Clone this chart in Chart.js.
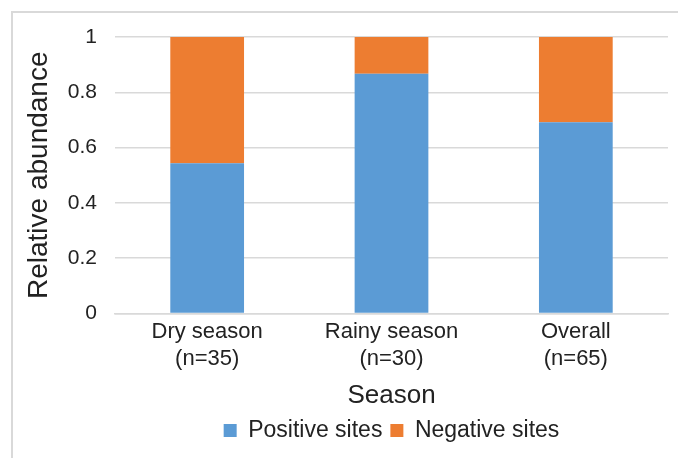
<!DOCTYPE html>
<html>
<head>
<meta charset="utf-8">
<script src="https://cdn.jsdelivr.net/npm/chart.js@4.4.0/dist/chart.umd.min.js"></script>
<style>
  html, body { margin: 0; padding: 0; background: #fff; }
  #wrap { position: relative; width: 678px; height: 458px; overflow: hidden; }
  #frame {
    position: absolute; left: 11px; top: 11px; width: 700px; height: 500px;
    border-top: 2px solid #d9d9d9; border-left: 2px solid #d9d9d9;
  }
  #myChart { position: absolute; left: 0; top: 0; }
</style>
</head>
<body>
<div id="wrap">
  <div id="frame"></div>
  <canvas id="myChart" width="678" height="458"></canvas>
</div>
<script>
"use strict";

const seasons = [["Dry season", "(n=35)"], ["Rainy season", "(n=30)"], ["Overall", "(n=65)"]];
const positiveSites = [0.543, 0.867, 0.692];
const negativeSites = [0.457, 0.133, 0.308];
const yTicks = [0, 0.2, 0.4, 0.6, 0.8, 1];

const FONT = "'Liberation Sans', Arial, sans-serif";
const gridColor = "#d9d9d9";
const textColor = "#222";

const ctx = document.getElementById("myChart").getContext("2d");

const config = {
  type: "bar",
  data: {
    labels: seasons,
    datasets: [
      {
        label: "Positive sites",
        data: positiveSites,
        backgroundColor: "#5b9bd5",
      },
      {
        label: "Negative sites",
        data: negativeSites,
        backgroundColor: "#ed7d31",
      },
    ],
  },
  options: {
    responsive: false,
    animation: false,
    layout: {
      padding: { left: 12, right: 10, top: 37, bottom: 6 },
    },
    datasets: {
      bar: { categoryPercentage: 1, barPercentage: 0.4 },
    },
    scales: {
      x: {
        stacked: true,
        grid: { display: false, drawTicks: false },
        border: { color: gridColor, width: 1.5 },
        ticks: {
          color: textColor,
          padding: 4,
          font: { family: FONT, size: 22, lineHeight: 1.27 },
          maxRotation: 0,
          autoSkip: false,
        },
        title: {
          display: true,
          text: "Season",
          color: textColor,
          font: { family: FONT, size: 26, lineHeight: 1 },
          padding: { top: 0, bottom: 2 },
        },
        afterFit: (scale) => {
          scale.height = 97.5;
        },
      },
      y: {
        stacked: true,
        min: 0,
        max: 1,
        afterBuildTicks: (scale) => {
          scale.ticks = yTicks.map((v) => ({ value: v }));
        },
        grid: { color: gridColor, lineWidth: 1.5, drawTicks: false },
        border: { display: false },
        ticks: {
          color: textColor,
          padding: 18,
          font: { family: FONT, size: 21 },
          callback: (v) => String(v),
        },
        title: {
          display: true,
          text: "Relative abundance",
          color: textColor,
          font: { family: FONT, size: 28, lineHeight: 1 },
          padding: { top: 13, bottom: 0 },
        },
        afterFit: (scale) => {
          scale.width = 103;
        },
      },
    },
    plugins: {
      legend: {
        position: "bottom",
        fullSize: false,
        labels: {
          color: textColor,
          boxWidth: 13,
          boxHeight: 13,
          padding: 8,
          font: { family: FONT, size: 23 },
        },
      },
      tooltip: { enabled: false },
    },
  },
};

const chart = new Chart(ctx, config);
</script>
</body>
</html>
